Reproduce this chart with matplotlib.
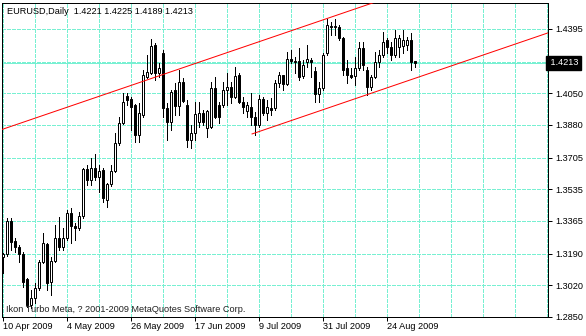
"""
EURUSD daily candles with a trend channel, drawn the way the MT4 terminal shows it.
"""
import matplotlib
matplotlib.use("Agg")
import matplotlib.pyplot as plt
import numpy as np

W, H = 586, 336
PX = 72 / 100  # one pixel in points at dpi=100

# daily bars from 10 Apr 2009
opens = [1.3173, 1.3189, 1.3366, 1.3259, 1.3227, 1.3189, 1.3055, 1.2916, 1.2953, 1.3007,
         1.3146, 1.3243, 1.3039, 1.3152, 1.3275, 1.3227, 1.3275, 1.3409, 1.3339, 1.3328,
         1.3393, 1.3645, 1.3586, 1.3650, 1.3602, 1.3639, 1.3478, 1.3564, 1.3634, 1.3784,
         1.3891, 1.4036, 1.4020, 1.3988, 1.3827, 1.3934, 1.4138, 1.4159, 1.4309, 1.4159,
         1.4266, 1.3972, 1.3897, 1.4068, 1.3982, 1.4111, 1.3988, 1.3800, 1.3838, 1.3897,
         1.3945, 1.3864, 1.3870, 1.4079, 1.3988, 1.3988, 1.4068, 1.4084, 1.4031, 1.4148,
         1.4004, 1.3955, 1.3977, 1.3923, 1.3880, 1.4020, 1.3945, 1.3972, 1.3972, 1.4106,
         1.4148, 1.4100, 1.4234, 1.4218, 1.4224, 1.4143, 1.4218, 1.4229, 1.4170, 1.4047,
         1.4079, 1.4266, 1.4411, 1.4406, 1.4406, 1.4347, 1.4186, 1.4148, 1.4143, 1.4186,
         1.4293, 1.4175, 1.4084, 1.4138, 1.4218, 1.4256, 1.4336, 1.4299, 1.4256, 1.4299,
         1.4304, 1.4309, 1.4336, 1.4221]
highs = [1.3194, 1.3382, 1.3382, 1.3275, 1.3237, 1.3200, 1.3060, 1.2996, 1.3034, 1.3157,
         1.3302, 1.3248, 1.3173, 1.3344, 1.3388, 1.3328, 1.3425, 1.3436, 1.3355, 1.3414,
         1.3650, 1.3666, 1.3704, 1.3725, 1.3666, 1.3650, 1.3570, 1.3666, 1.3838, 1.3923,
         1.4052, 1.4052, 1.4031, 1.3993, 1.3998, 1.4175, 1.4256, 1.4341, 1.4320, 1.4213,
         1.4282, 1.3998, 1.4068, 1.4106, 1.4175, 1.4132, 1.4014, 1.3880, 1.4004, 1.4004,
         1.3961, 1.3961, 1.4111, 1.4138, 1.4004, 1.4111, 1.4159, 1.4111, 1.4191, 1.4159,
         1.4031, 1.4004, 1.4052, 1.3950, 1.4041, 1.4031, 1.4014, 1.4025, 1.4122, 1.4165,
         1.4148, 1.4272, 1.4282, 1.4245, 1.4293, 1.4229, 1.4309, 1.4240, 1.4191, 1.4111,
         1.4266, 1.4449, 1.4433, 1.4449, 1.4416, 1.4352, 1.4229, 1.4186, 1.4245, 1.4325,
         1.4325, 1.4191, 1.4148, 1.4272, 1.4282, 1.4379, 1.4347, 1.4325, 1.4390, 1.4363,
         1.4390, 1.4352, 1.4374, 1.4225]
lows = [1.3087, 1.3178, 1.3210, 1.3200, 1.3146, 1.3012, 1.2905, 1.2900, 1.2926, 1.2996,
        1.3141, 1.2996, 1.2969, 1.3146, 1.3210, 1.3210, 1.3264, 1.3248, 1.3264, 1.3318,
        1.3382, 1.3559, 1.3559, 1.3586, 1.3521, 1.3468, 1.3441, 1.3554, 1.3629, 1.3773,
        1.3886, 1.3988, 1.3854, 1.3789, 1.3789, 1.3923, 1.4132, 1.4154, 1.4122, 1.4138,
        1.3923, 1.3800, 1.3854, 1.3934, 1.3934, 1.4004, 1.3763, 1.3757, 1.3800, 1.3870,
        1.3880, 1.3816, 1.3864, 1.3918, 1.3891, 1.3977, 1.3988, 1.3998, 1.4025, 1.3998,
        1.3945, 1.3923, 1.3880, 1.3827, 1.3870, 1.3934, 1.3907, 1.3934, 1.3961, 1.4084,
        1.4068, 1.4095, 1.4213, 1.4159, 1.4122, 1.4132, 1.4191, 1.4138, 1.4004, 1.4004,
        1.4068, 1.4256, 1.4363, 1.4363, 1.4336, 1.4148, 1.4106, 1.4132, 1.4095, 1.4175,
        1.4175, 1.4041, 1.4068, 1.4132, 1.4191, 1.4245, 1.4266, 1.4229, 1.4245, 1.4245,
        1.4266, 1.4282, 1.4175, 1.4189]
closes = [1.3189, 1.3366, 1.3253, 1.3227, 1.3189, 1.3039, 1.2916, 1.2953, 1.3007, 1.3146,
          1.3248, 1.3034, 1.3152, 1.3275, 1.3227, 1.3275, 1.3409, 1.3339, 1.3328, 1.3393,
          1.3645, 1.3586, 1.3650, 1.3602, 1.3634, 1.3489, 1.3564, 1.3634, 1.3784, 1.3891,
          1.4004, 1.4014, 1.3977, 1.3827, 1.3945, 1.4148, 1.4165, 1.4304, 1.4159, 1.4186,
          1.3972, 1.3897, 1.4057, 1.3982, 1.4111, 1.4009, 1.3800, 1.3838, 1.3939, 1.3945,
          1.3897, 1.3955, 1.4079, 1.3923, 1.3923, 1.4068, 1.4084, 1.4031, 1.4143, 1.4004,
          1.3977, 1.3988, 1.3923, 1.3880, 1.4020, 1.3945, 1.3977, 1.3961, 1.4106, 1.4148,
          1.4100, 1.4234, 1.4224, 1.4224, 1.4138, 1.4202, 1.4234, 1.4218, 1.4047, 1.4079,
          1.4256, 1.4416, 1.4406, 1.4411, 1.4347, 1.4175, 1.4148, 1.4138, 1.4186, 1.4293,
          1.4202, 1.4084, 1.4138, 1.4218, 1.4256, 1.4325, 1.4299, 1.4256, 1.4347, 1.4347,
          1.4336, 1.4336, 1.4218, 1.4213]

date_labels = ["10 Apr 2009", "4 May 2009", "26 May 2009", "17 Jun 2009",
               "9 Jul 2009", "31 Jul 2009", "24 Aug 2009"]
price_labels = [1.2850, 1.3020, 1.3190, 1.3365, 1.3535, 1.3705, 1.3880, 1.4050, 1.4395]
grid_prices = price_labels[:-1] + [1.4220, 1.4395]
last_price = 1.4213

# channel anchors (bar index, price)
upper_x, upper_y = [-0.33, 92.4], [1.3856, 1.4535]
lower_x, lower_y = [62.2, 136.2], [1.3832, 1.4374]

GRID = "#78f0d2"
FONT = "Liberation Sans"
FS = 6.6

plt.rcParams["font.family"] = [FONT, "DejaVu Sans"]

fig = plt.figure(figsize=(W / 100, H / 100), dpi=100)
fig.patch.set_facecolor("white")
ax = fig.add_axes([2 / W, (H - 317) / H, 546 / W, 314.5 / H])
ax.set_xlim(-0.33, 136.2)
ax.set_ylim(1.2850, 1.4537)

# grid
dash = (0, (3, 2))
for p in grid_prices:
    ax.axhline(p, color=GRID, lw=PX, ls=dash, zorder=1, antialiased=False)
for b in range(0, 137, 8):
    ax.axvline(b, color=GRID, lw=PX, ls=dash, zorder=1, antialiased=False)
ax.axhline(last_price, color=GRID, lw=PX, zorder=1, antialiased=False)

# candles
o = np.array(opens); h = np.array(highs); l = np.array(lows); c = np.array(closes)
idx = np.arange(len(o))
ax.vlines(idx, l, h, color="black", lw=PX, zorder=2, antialiased=False)
bull = c >= o
ax.bar(idx, np.abs(c - o), bottom=np.minimum(o, c), width=0.5,
       color=np.where(bull, "white", "black"), edgecolor="black", lw=PX, zorder=3)

# trend channel
ax.plot(upper_x, upper_y, color="red", lw=PX, zorder=4)
ax.plot(lower_x, lower_y, color="red", lw=PX, zorder=4)

# axes
for s in ax.spines.values():
    s.set_linewidth(PX)
    s.set_color("black")

ax.yaxis.tick_right()
ax.set_yticks(price_labels)
ax.set_yticklabels([f"{p:.4f}" for p in price_labels])
ax.tick_params(axis="y", length=4 * PX, width=PX, pad=2.2, labelsize=FS)
ax.set_xticks(np.arange(len(date_labels)) * 16)
ax.set_xticklabels(date_labels, ha="left")
ax.tick_params(axis="x", length=4 * PX, width=PX, pad=1, labelsize=FS)

ax.text(1.0, last_price, " 1.4213", transform=ax.get_yaxis_transform(),
        ha="left", va="center", fontsize=FS, color="white", clip_on=False,
        bbox=dict(boxstyle="square,pad=0.25", fc="black", ec="black"))

fig.text(7 / W, 1 - 11 / H, "EURUSD,Daily  1.4221 1.4225 1.4189 1.4213",
         fontsize=FS, va="center", ha="left")
fig.text(6 / W, 1 - 310 / H, "Ikon Turbo Meta, ? 2001-2009 MetaQuotes Software Corp.",
         fontsize=FS, va="center", ha="left", color="#202020")

fig.savefig("out.png", dpi=100)
